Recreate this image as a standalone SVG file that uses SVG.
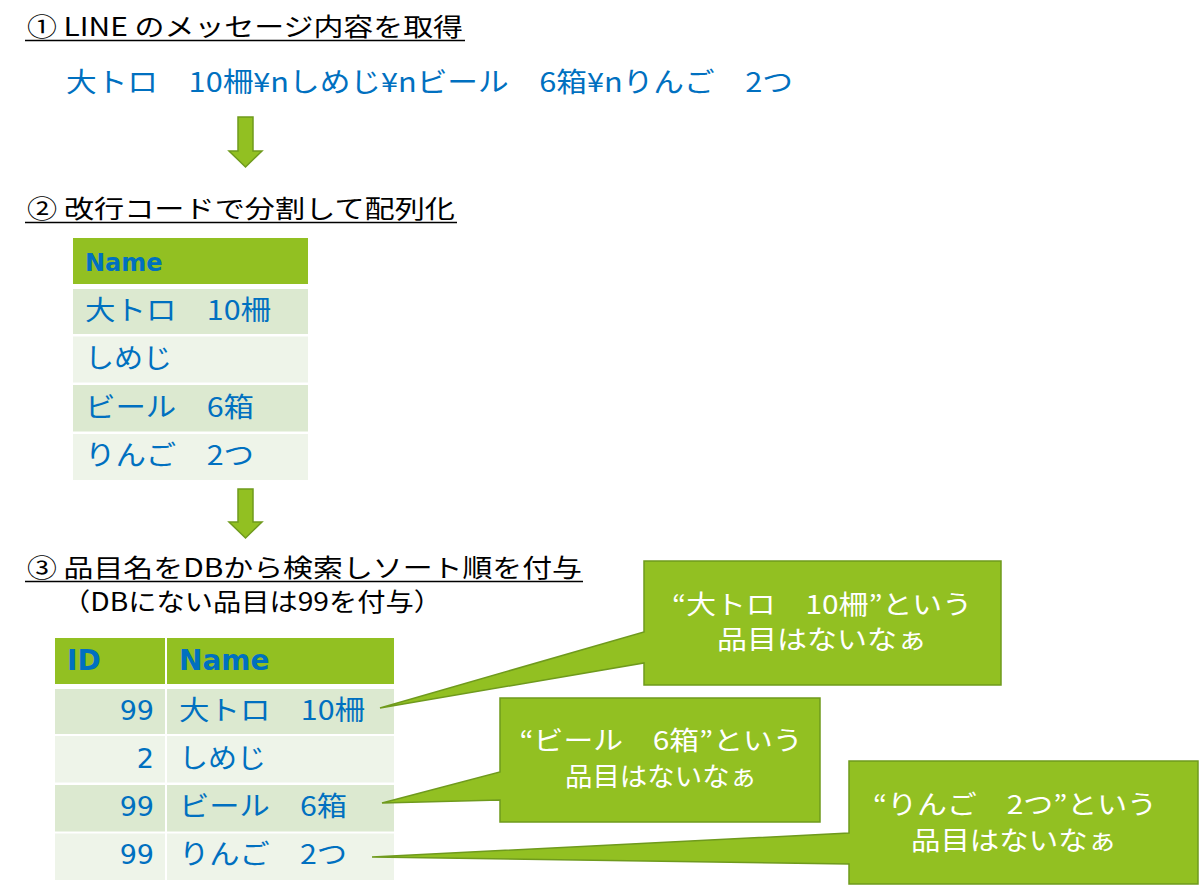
<svg xmlns="http://www.w3.org/2000/svg" width="1200" height="895" viewBox="0 0 1200 895">
<style>
text{font-family:"Noto Sans CJK JP","DejaVu Sans",sans-serif}
.ttl{font-size:25px;fill:#000}
.ul{stroke:#000;stroke-width:1.3}
.blue{fill:#0070C0;font-size:27px}
.num{font-family:"DejaVu Sans",sans-serif;font-size:27px;fill:#0070C0;text-anchor:end}
.hdrtxt{font-family:"DejaVu Sans","Noto Sans CJK JP",sans-serif;font-weight:bold;font-size:24px;fill:#0070C0}
.hdr2{font-size:28px}
.hdr{fill:#92C022}
.r1{fill:#DCE9D0}
.r2{fill:#EEF4E9}
.arrow{fill:#92C022;stroke:#6F9A1D;stroke-width:1.5}
.callout{fill:#92C022;stroke:#6F9A1D;stroke-width:1.5}
.ctxt{fill:#fff;font-size:26px;text-anchor:middle}
</style>
<rect width="1200" height="895" fill="#fff"/>

<g id="title1">
<text class="ttl" x="27" y="36" textLength="436" lengthAdjust="spacingAndGlyphs">① LINE のメッセージ内容を取得</text>
<line class="ul" x1="25" y1="40.5" x2="465" y2="40.5"/>
</g>

<g id="message">
<text class="blue" x="66" y="92" textLength="727" lengthAdjust="spacingAndGlyphs">大トロ　10柵¥nしめじ¥nビール　6箱¥nりんご　2つ</text>
</g>

<g id="title2">
<text class="ttl" x="27" y="218" textLength="428" lengthAdjust="spacingAndGlyphs">② 改行コードで分割して配列化</text>
<line class="ul" x1="25" y1="222.5" x2="457" y2="222.5"/>
</g>

<g id="table1">
<rect class="hdr" x="73" y="238" width="235" height="46"/>
<rect class="r1" x="73" y="289" width="235" height="45"/>
<rect class="r2" x="73" y="336.5" width="235" height="46"/>
<rect class="r1" x="73" y="385" width="235" height="46.5"/>
<rect class="r2" x="73" y="434" width="235" height="46"/>
<text class="hdrtxt" x="85" y="271">Name</text>
<text class="blue" x="85" y="320" textLength="186" lengthAdjust="spacingAndGlyphs">大トロ　10柵</text>
<text class="blue" x="85" y="368" textLength="87" lengthAdjust="spacingAndGlyphs">しめじ</text>
<text class="blue" x="85" y="417" textLength="169" lengthAdjust="spacingAndGlyphs">ビール　6箱</text>
<text class="blue" x="85" y="465" textLength="169" lengthAdjust="spacingAndGlyphs">りんご　2つ</text>
</g>

<g id="title3">
<text class="ttl" x="27" y="577" textLength="555" lengthAdjust="spacingAndGlyphs">③ 品目名をDBから検索しソート順を付与</text>
<line class="ul" x1="25" y1="581.5" x2="583" y2="581.5"/>
<text class="ttl" x="62" y="611" textLength="380" lengthAdjust="spacingAndGlyphs">（DBにない品目は99を付与）</text>
</g>

<g id="table2">
<rect class="hdr" x="55" y="638" width="110" height="46"/>
<rect class="hdr" x="167" y="638" width="227" height="46"/>
<rect class="r1" x="55" y="689" width="110" height="45"/>
<rect class="r1" x="167" y="689" width="227" height="45"/>
<rect class="r2" x="55" y="736" width="110" height="46.5"/>
<rect class="r2" x="167" y="736" width="227" height="46.5"/>
<rect class="r1" x="55" y="785" width="110" height="46.5"/>
<rect class="r1" x="167" y="785" width="227" height="46.5"/>
<rect class="r2" x="55" y="833.5" width="110" height="46.5"/>
<rect class="r2" x="167" y="833.5" width="227" height="46.5"/>
<text class="hdrtxt hdr2" x="67" y="670">ID</text>
<text class="hdrtxt hdr2" x="179" y="670">Name</text>
<text class="num" x="154" y="720">99</text>
<text class="num" x="154" y="768">2</text>
<text class="num" x="154" y="816">99</text>
<text class="num" x="154" y="864">99</text>
<text class="blue" x="179" y="720" textLength="186" lengthAdjust="spacingAndGlyphs">大トロ　10柵</text>
<text class="blue" x="179" y="768" textLength="87" lengthAdjust="spacingAndGlyphs">しめじ</text>
<text class="blue" x="179" y="816" textLength="168" lengthAdjust="spacingAndGlyphs">ビール　6箱</text>
<text class="blue" x="179" y="864" textLength="168" lengthAdjust="spacingAndGlyphs">りんご　2つ</text>
</g>

<g id="connectors">
<polygon class="arrow" points="238,117 253,117 253,151 262,151 245.5,167 229,151 238,151"/>
<polygon class="arrow" points="238,489 253,489 253,522 262,522 245.5,538 229,522 238,522"/>
</g>

<g id="callout1">
<path class="callout" d="M644,561 H1001 V685 H644 V663 L380,708 L644,632 Z"/>
<text class="ctxt" x="822" y="614" textLength="300" lengthAdjust="spacingAndGlyphs">“大トロ　10柵”という</text>
<text class="ctxt" x="822" y="649" textLength="210" lengthAdjust="spacingAndGlyphs">品目はないなぁ</text>
</g>

<g id="callout2">
<path class="callout" d="M500,698 H820 V822 H500 V800 L382,803 L500,772 Z"/>
<text class="ctxt" x="661" y="750" textLength="283" lengthAdjust="spacingAndGlyphs">“ビール　6箱”という</text>
<text class="ctxt" x="661" y="786" textLength="192" lengthAdjust="spacingAndGlyphs">品目はないなぁ</text>
</g>

<g id="callout3">
<path class="callout" d="M849,761 H1198 V884 H849 V864 L372,857 L849,833 Z"/>
<text class="ctxt" x="1015" y="814" textLength="284" lengthAdjust="spacingAndGlyphs">“りんご　2つ”という</text>
<text class="ctxt" x="1014" y="850" textLength="206" lengthAdjust="spacingAndGlyphs">品目はないなぁ</text>
</g>
</svg>
